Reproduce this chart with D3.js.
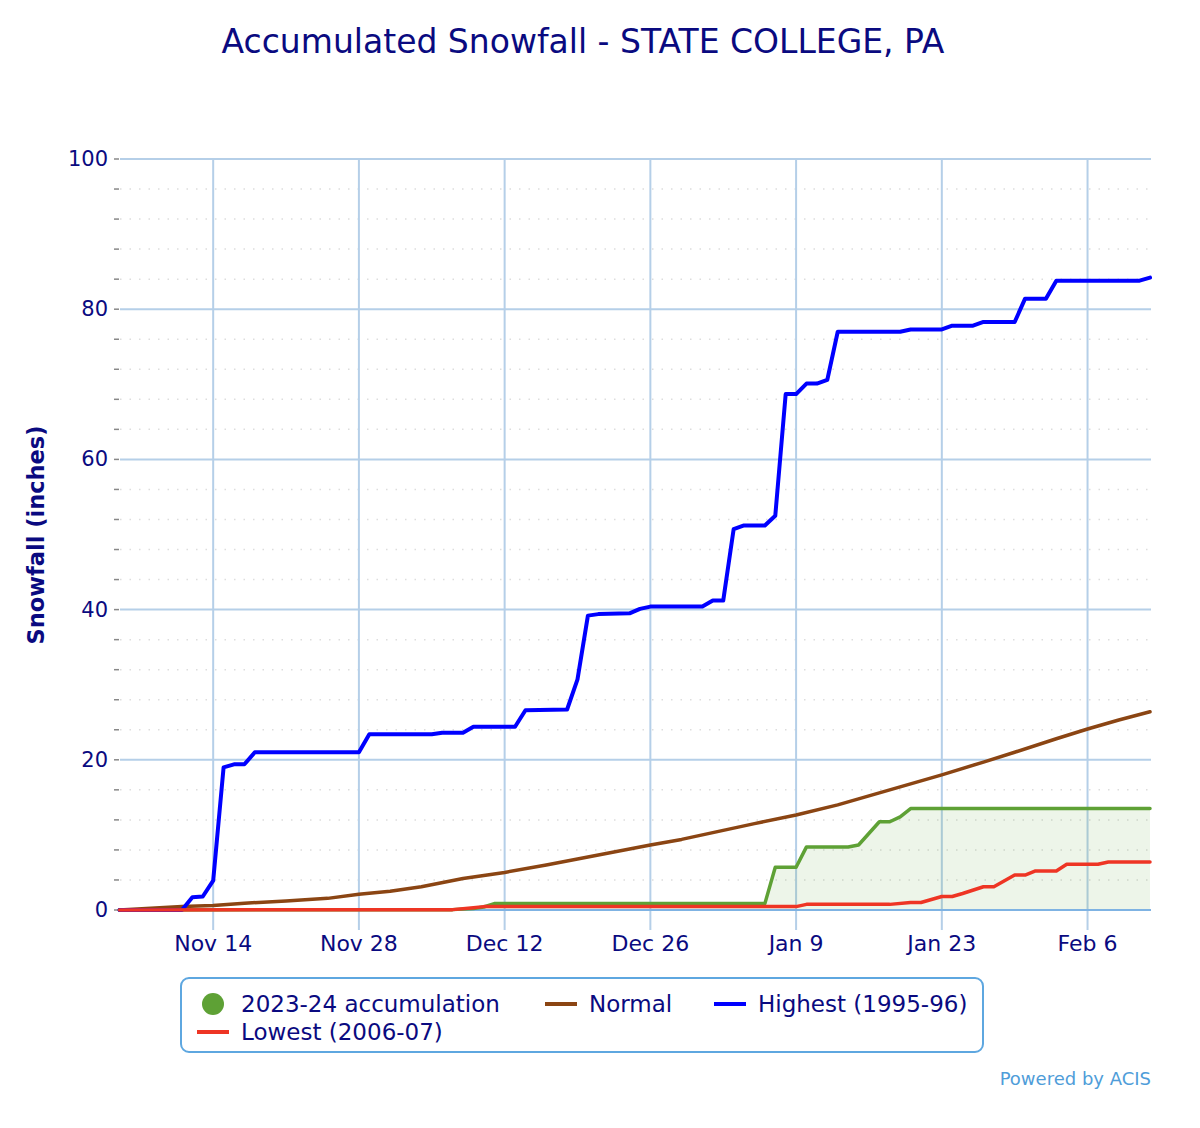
<!DOCTYPE html>
<html>
<head>
<meta charset="utf-8">
<script src="https://cdn.jsdelivr.net/npm/d3@7"></script>
<style>
  body { margin: 0; background: #fff; }
  svg { display: block; font-family: "DejaVu Sans", Verdana, sans-serif; }
</style>
</head>
<body>
<svg id="chart" width="1200" height="1128"></svg>
<script>
// 2023-24 season (date, inches)
const season = [
  ["2023-11-05", 0], ["2023-12-07", 0.05], ["2023-12-09", 0.2], ["2023-12-10", 0.4],
  ["2023-12-11", 0.85], ["2024-01-06", 0.85], ["2024-01-07", 5.7], ["2024-01-09", 5.7],
  ["2024-01-10", 8.4], ["2024-01-14", 8.4], ["2024-01-15", 8.65], ["2024-01-17", 11.75],
  ["2024-01-18", 11.75], ["2024-01-19", 12.4], ["2024-01-20", 13.5], ["2024-02-12", 13.5]
];

const normal = [
  ["2023-11-05", 0], ["2023-11-08", 0.25], ["2023-11-11", 0.45], ["2023-11-14", 0.6],
  ["2023-11-17", 0.9], ["2023-11-21", 1.2], ["2023-11-25", 1.55], ["2023-11-28", 2.1],
  ["2023-12-01", 2.5], ["2023-12-04", 3.1], ["2023-12-08", 4.2], ["2023-12-12", 5.0],
  ["2023-12-16", 6.0], ["2023-12-19", 6.8], ["2023-12-22", 7.6], ["2023-12-26", 8.65],
  ["2023-12-29", 9.4], ["2024-01-02", 10.6], ["2024-01-05", 11.5], ["2024-01-09", 12.65],
  ["2024-01-13", 14.0], ["2024-01-16", 15.2], ["2024-01-19", 16.4], ["2024-01-23", 18.0],
  ["2024-01-27", 19.7], ["2024-01-30", 21.0], ["2024-02-03", 22.8], ["2024-02-06", 24.1],
  ["2024-02-09", 25.3], ["2024-02-12", 26.4]
];

const highest = [
  ["2023-11-05", 0], ["2023-11-11", 0], ["2023-11-12", 1.7], ["2023-11-13", 1.8],
  ["2023-11-14", 3.9], ["2023-11-15", 19.0], ["2023-11-16", 19.4], ["2023-11-17", 19.4],
  ["2023-11-18", 21.0], ["2023-11-28", 21.0], ["2023-11-29", 23.4], ["2023-12-05", 23.4],
  ["2023-12-06", 23.6], ["2023-12-08", 23.6], ["2023-12-09", 24.4], ["2023-12-13", 24.4],
  ["2023-12-14", 26.6], ["2023-12-18", 26.7], ["2023-12-19", 30.7], ["2023-12-20", 39.2],
  ["2023-12-21", 39.4], ["2023-12-24", 39.5], ["2023-12-25", 40.1], ["2023-12-26", 40.4],
  ["2023-12-31", 40.4], ["2024-01-01", 41.2], ["2024-01-02", 41.2], ["2024-01-03", 50.7],
  ["2024-01-04", 51.2], ["2024-01-06", 51.2], ["2024-01-07", 52.5], ["2024-01-08", 68.7],
  ["2024-01-09", 68.7], ["2024-01-10", 70.1], ["2024-01-11", 70.1], ["2024-01-12", 70.6],
  ["2024-01-13", 77.0], ["2024-01-19", 77.0], ["2024-01-20", 77.3], ["2024-01-23", 77.3],
  ["2024-01-24", 77.8], ["2024-01-26", 77.8], ["2024-01-27", 78.3], ["2024-01-30", 78.3],
  ["2024-01-31", 81.4], ["2024-02-02", 81.4], ["2024-02-03", 83.8], ["2024-02-11", 83.8],
  ["2024-02-12", 84.2]
];

const lowest = [
  ["2023-11-05", 0], ["2023-12-07", 0.05], ["2023-12-09", 0.3], ["2023-12-10", 0.45],
  ["2024-01-09", 0.45], ["2024-01-10", 0.75], ["2024-01-18", 0.75], ["2024-01-20", 1.0],
  ["2024-01-21", 1.0], ["2024-01-23", 1.8], ["2024-01-24", 1.8], ["2024-01-25", 2.2],
  ["2024-01-27", 3.1], ["2024-01-28", 3.1], ["2024-01-30", 4.65], ["2024-01-31", 4.65],
  ["2024-02-01", 5.2], ["2024-02-03", 5.2], ["2024-02-04", 6.1], ["2024-02-07", 6.1],
  ["2024-02-08", 6.4], ["2024-02-12", 6.4]
];

const xTickDates = ["2023-11-14", "2023-11-28", "2023-12-12", "2023-12-26", "2024-01-09", "2024-01-23", "2024-02-06"];
const xTickLabels = ["Nov 14", "Nov 28", "Dec 12", "Dec 26", "Jan 9", "Jan 23", "Feb 6"];
const yTicks = [0, 20, 40, 60, 80, 100];
const yMinorTicks = d3.range(0, 101, 4);

const legendItems = [
  { name: "2023-24 accumulation", color: "#5ea135", symbol: "circle" },
  { name: "Normal", color: "#8b4513", symbol: "line" },
  { name: "Highest (1995-96)", color: "#0000ff", symbol: "line" },
  { name: "Lowest (2006-07)", color: "#ee3524", symbol: "line" }
];

const navy = "#0a0a80";
const parse = d3.utcParse("%Y-%m-%d");

const svg = d3.select("#chart");
const plot = { left: 120, right: 1151, top: 159, bottom: 910 };

const x = d3.scaleUtc()
  .domain([parse("2023-11-05"), parse("2024-02-12")])
  .range([119.5, 1150]);
const y = d3.scaleLinear().domain([0, 100]).range([plot.bottom, plot.top]);

// title
svg.append("text")
  .attr("x", 583).attr("y", 53)
  .attr("text-anchor", "middle")
  .attr("font-size", 33)
  .attr("fill", navy)
  .text("Accumulated Snowfall - STATE COLLEGE, PA");

// minor dotted grid
svg.append("g")
  .selectAll("line")
  .data(yMinorTicks.filter(d => d % 20 !== 0))
  .join("line")
  .attr("x1", plot.left).attr("x2", plot.right)
  .attr("y1", d => y(d)).attr("y2", d => y(d))
  .attr("stroke", "#dddddd")
  .attr("stroke-width", 1.5)
  .attr("stroke-dasharray", "1.5,8");

// major grid
svg.append("g")
  .selectAll("line")
  .data(yTicks.filter(d => d > 0))
  .join("line")
  .attr("x1", plot.left).attr("x2", plot.right)
  .attr("y1", d => y(d)).attr("y2", d => y(d))
  .attr("stroke", "#b5cfe8")
  .attr("stroke-width", 2);

// vertical grid + ticks under the axis
svg.append("g")
  .selectAll("line")
  .data(xTickDates)
  .join("line")
  .attr("x1", d => x(parse(d))).attr("x2", d => x(parse(d)))
  .attr("y1", plot.top).attr("y2", plot.bottom + 20)
  .attr("stroke", "#b5cfe8")
  .attr("stroke-width", 2);

// y axis tick dashes
svg.append("g")
  .selectAll("line")
  .data(yMinorTicks)
  .join("line")
  .attr("x1", plot.left - 6).attr("x2", plot.left - 1)
  .attr("y1", d => y(d)).attr("y2", d => y(d))
  .attr("stroke", "#888")
  .attr("stroke-width", 1.5);

// y tick labels
svg.append("g")
  .selectAll("text")
  .data(yTicks)
  .join("text")
  .attr("x", plot.left - 12)
  .attr("y", d => y(d) + 7)
  .attr("text-anchor", "end")
  .attr("font-size", 21)
  .attr("fill", navy)
  .text(d => d);

// x tick labels
svg.append("g")
  .selectAll("text")
  .data(xTickDates)
  .join("text")
  .attr("x", d => x(parse(d)))
  .attr("y", 951)
  .attr("text-anchor", "middle")
  .attr("font-size", 22)
  .attr("fill", navy)
  .text((d, i) => xTickLabels[i]);

// y axis title
svg.append("text")
  .attr("transform", "translate(44,535) rotate(-90)")
  .attr("text-anchor", "middle")
  .attr("font-size", 22.5)
  .attr("font-weight", "bold")
  .attr("fill", navy)
  .text("Snowfall (inches)");

const pts = arr => arr.map(d => [parse(d[0]), d[1]]);
const line = d3.line().x(d => x(d[0])).y(d => y(d[1]));
const area = d3.area().x(d => x(d[0])).y0(y(0)).y1(d => y(d[1]));

// season area
svg.append("path")
  .attr("d", area(pts(season)))
  .attr("fill", "#5ea135")
  .attr("fill-opacity", 0.11);

// x axis line
svg.append("line")
  .attr("x1", plot.left).attr("x2", plot.right)
  .attr("y1", plot.bottom).attr("y2", plot.bottom)
  .attr("stroke", "#7fb3e3")
  .attr("stroke-width", 2);

const series = [
  { data: season, color: legendItems[0].color, width: 3.5 },
  { data: normal, color: legendItems[1].color, width: 3.5 },
  { data: highest, color: legendItems[2].color, width: 4 },
  { data: lowest, color: legendItems[3].color, width: 3.5 }
];

svg.append("g")
  .selectAll("path")
  .data(series)
  .join("path")
  .attr("d", d => line(pts(d.data)))
  .attr("fill", "none")
  .attr("stroke", d => d.color)
  .attr("stroke-width", d => d.width)
  .attr("stroke-linejoin", "round")
  .attr("stroke-linecap", "round");

// legend
const legend = svg.append("g");
legend.append("rect")
  .attr("x", 181).attr("y", 978)
  .attr("width", 802).attr("height", 74)
  .attr("rx", 8)
  .attr("fill", "#fff")
  .attr("stroke", "#5ea7e0")
  .attr("stroke-width", 2);

const legendPos = [
  { sx: 213, tx: 241, cy: 1004 },
  { sx: 561, tx: 589, cy: 1004 },
  { sx: 730, tx: 758, cy: 1004 },
  { sx: 213, tx: 241, cy: 1032 }
];

const item = legend.selectAll("g.item")
  .data(legendItems)
  .join("g")
  .attr("class", "item")
  .attr("transform", (d, i) => `translate(0,${legendPos[i].cy})`);

item.filter(d => d.symbol === "circle")
  .append("circle")
  .attr("cx", d => legendPos[legendItems.indexOf(d)].sx)
  .attr("cy", 0)
  .attr("r", 11)
  .attr("fill", d => d.color);

item.filter(d => d.symbol === "line")
  .append("line")
  .attr("x1", d => legendPos[legendItems.indexOf(d)].sx - 16)
  .attr("x2", d => legendPos[legendItems.indexOf(d)].sx + 16)
  .attr("y1", 0).attr("y2", 0)
  .attr("stroke", d => d.color)
  .attr("stroke-width", 4);

item.append("text")
  .attr("x", (d, i) => legendPos[i].tx)
  .attr("y", 8)
  .attr("font-size", 23)
  .attr("fill", navy)
  .text(d => d.name);

// credit
svg.append("text")
  .attr("x", 1151).attr("y", 1085)
  .attr("text-anchor", "end")
  .attr("font-size", 18)
  .attr("fill", "#4f9dd9")
  .text("Powered by ACIS");
</script>
</body>
</html>
